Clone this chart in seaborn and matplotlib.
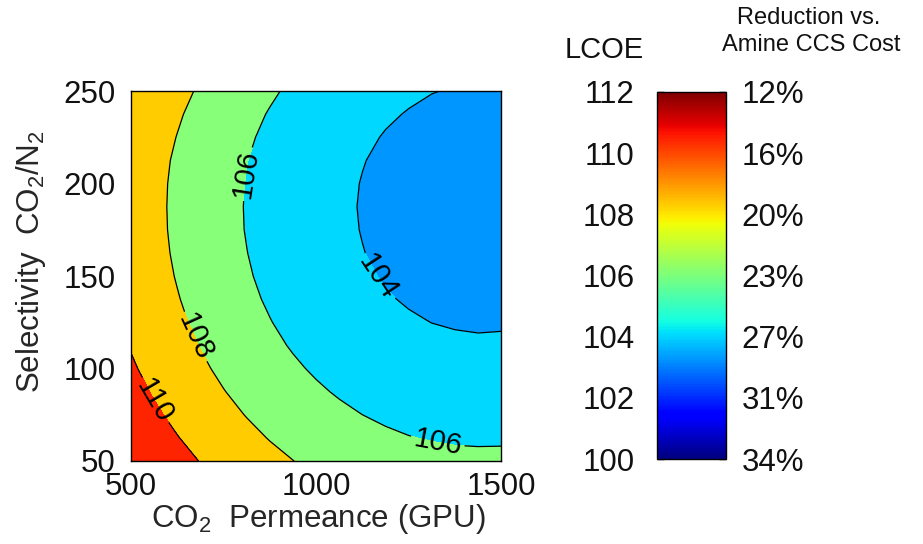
import numpy as np
import pandas as pd
import matplotlib
matplotlib.use("Agg")
import matplotlib.pyplot as plt
import seaborn as sns
from matplotlib.colors import Normalize
from matplotlib.cm import ScalarMappable

# ---------------- data ----------------
permeance = [500, 562.5, 625, 687.5, 750, 812.5, 875, 937.5, 1000,
             1062.5, 1125, 1187.5, 1250, 1312.5, 1375, 1437.5, 1500]
selectivity = [50, 62.5, 75, 87.5, 100, 112.5, 125, 137.5, 150,
               162.5, 175, 187.5, 200, 212.5, 225, 237.5, 250]

# LCOE read on the grid, one list per selectivity row (along permeance)
lcoe_sel_050_0 = [111.90, 111.20, 110.55, 109.95, 109.40, 108.89, 108.43, 108.02, 107.63, 107.29, 107.01, 106.77, 106.58, 106.45, 106.36, 106.33, 106.34]
lcoe_sel_062_5 = [111.40, 110.71, 110.06, 109.46, 108.90, 108.40, 107.93, 107.49, 107.10, 106.77, 106.48, 106.24, 106.05, 105.92, 105.83, 105.80, 105.81]
lcoe_sel_075_0 = [110.95, 110.26, 109.61, 109.01, 108.45, 107.94, 107.45, 107.01, 106.63, 106.29, 106.00, 105.76, 105.57, 105.43, 105.34, 105.31, 105.32]
lcoe_sel_087_5 = [110.55, 109.86, 109.21, 108.61, 108.05, 107.52, 107.03, 106.59, 106.20, 105.86, 105.56, 105.32, 105.13, 104.99, 104.91, 104.87, 104.89]
lcoe_sel_100_0 = [110.20, 109.51, 108.86, 108.26, 107.68, 107.14, 106.65, 106.21, 105.82, 105.47, 105.18, 104.94, 104.75, 104.61, 104.52, 104.49, 104.50]
lcoe_sel_112_5 = [109.90, 109.20, 108.55, 107.95, 107.36, 106.81, 106.32, 105.88, 105.48, 105.14, 104.85, 104.60, 104.41, 104.28, 104.19, 104.15, 104.17]
lcoe_sel_125_0 = [109.64, 108.94, 108.29, 107.67, 107.08, 106.54, 106.05, 105.60, 105.20, 104.86, 104.56, 104.32, 104.13, 103.99, 103.91, 103.87, 103.89]
lcoe_sel_137_5 = [109.43, 108.73, 108.08, 107.45, 106.85, 106.31, 105.82, 105.37, 104.97, 104.63, 104.34, 104.09, 103.90, 103.76, 103.67, 103.64, 103.66]
lcoe_sel_150_0 = [109.26, 108.57, 107.91, 107.27, 106.68, 106.14, 105.64, 105.19, 104.80, 104.45, 104.16, 103.91, 103.72, 103.58, 103.49, 103.46, 103.48]
lcoe_sel_162_5 = [109.15, 108.45, 107.79, 107.15, 106.56, 106.02, 105.52, 105.07, 104.67, 104.33, 104.03, 103.79, 103.59, 103.45, 103.37, 103.33, 103.35]
lcoe_sel_175_0 = [109.08, 108.38, 107.72, 107.08, 106.48, 105.94, 105.44, 104.99, 104.60, 104.25, 103.96, 103.71, 103.52, 103.38, 103.29, 103.26, 103.27]
lcoe_sel_187_5 = [109.06, 108.36, 107.70, 107.05, 106.46, 105.92, 105.42, 104.97, 104.57, 104.23, 103.93, 103.69, 103.50, 103.36, 103.27, 103.23, 103.25]
lcoe_sel_200_0 = [109.09, 108.39, 107.72, 107.08, 106.49, 105.95, 105.45, 105.00, 104.60, 104.26, 103.96, 103.72, 103.53, 103.39, 103.30, 103.26, 103.28]
lcoe_sel_212_5 = [109.16, 108.46, 107.80, 107.16, 106.57, 106.03, 105.53, 105.08, 104.68, 104.34, 104.04, 103.80, 103.61, 103.47, 103.38, 103.34, 103.36]
lcoe_sel_225_0 = [109.31, 108.62, 107.96, 107.32, 106.73, 106.19, 105.69, 105.24, 104.85, 104.50, 104.20, 103.93, 103.74, 103.60, 103.51, 103.48, 103.50]
lcoe_sel_237_5 = [109.51, 108.82, 108.17, 107.53, 106.94, 106.40, 105.91, 105.46, 105.06, 104.71, 104.40, 104.14, 103.94, 103.79, 103.70, 103.66, 103.68]
lcoe_sel_250_0 = [109.79, 109.09, 108.44, 107.82, 107.23, 106.69, 106.20, 105.75, 105.36, 105.00, 104.68, 104.40, 104.19, 104.03, 103.94, 103.90, 103.92]

contour_levels = [104, 106, 108, 110]
fill_levels = [100, 104, 106, 108, 110, 112]
x_ticks = [500, 1000, 1500]
y_ticks = [50, 100, 150, 200, 250]
cbar_ticks = [100, 102, 104, 106, 108, 110, 112]
cbar_pct = ["34%", "31%", "27%", "23%", "20%", "16%", "12%"]

# ---------------- styling ----------------
sns.set_theme(style="white")
plt.rcParams["font.family"] = ["Liberation Sans", "DejaVu Sans"]
plt.rcParams["mathtext.default"] = "regular"
plt.rcParams["text.color"] = "#111111"

band_colors = ["#0096ff", "#00d8ff", "#88ff78", "#ffcc00", "#ff2400"]
FS = 22.5

rows = [lcoe_sel_050_0, lcoe_sel_062_5, lcoe_sel_075_0, lcoe_sel_087_5,
        lcoe_sel_100_0, lcoe_sel_112_5, lcoe_sel_125_0, lcoe_sel_137_5,
        lcoe_sel_150_0, lcoe_sel_162_5, lcoe_sel_175_0, lcoe_sel_187_5,
        lcoe_sel_200_0, lcoe_sel_212_5, lcoe_sel_225_0, lcoe_sel_237_5,
        lcoe_sel_250_0]
df = pd.DataFrame(rows, index=selectivity, columns=permeance)
X, Y = np.meshgrid(df.columns.values, df.index.values)
Z = df.values

fig = plt.figure(figsize=(9.23, 5.44), dpi=100)
ax = fig.add_axes([0.142, 0.1526, 0.401, 0.680])

ax.contourf(X, Y, Z, levels=fill_levels, colors=band_colors)
cs = ax.contour(X, Y, Z, levels=contour_levels, colors="black", linewidths=0.9)
ax.clabel(cs, fmt="%d", fontsize=21, inline=True, inline_spacing=3,
          manual=[(559, 82), (649, 115), (817, 205), (1328, 60), (1150, 147)])

ax.set_xlim(500, 1500)
ax.set_ylim(50, 250)
ax.set_xticks(x_ticks)
ax.set_yticks(y_ticks)
ax.tick_params(axis="both", labelsize=FS, length=0, colors="#111111")
ax.tick_params(axis="y", pad=11)
ax.tick_params(axis="x", pad=8)
for s in ax.spines.values():
    s.set_visible(True)
    s.set_color("black")
    s.set_linewidth(1.0)

ax.set_xlabel("CO$_2$  Permeance (GPU)", fontsize=FS)
ax.set_ylabel("Selectivity  CO$_2$/N$_2$", fontsize=FS)
ax.xaxis.set_label_coords(0.505, -0.11)
ax.yaxis.set_label_coords(-0.225, 0.54)

# ---------------- colorbar ----------------
cax = fig.add_axes([0.7118, 0.1562, 0.0748, 0.6747])
sm = ScalarMappable(norm=Normalize(100, 112), cmap="jet")
cbar = fig.colorbar(sm, cax=cax)
cbar.outline.set_edgecolor("black")
cbar.outline.set_linewidth(1.0)
cbar.set_ticks(cbar_ticks)
cax.yaxis.set_ticks_position("left")
cax.yaxis.set_label_position("left")
cax.tick_params(axis="y", direction="in", length=5, width=1, colors="black",
                labelsize=FS, pad=16, labelcolor="#111111")
sec = cax.secondary_yaxis("right")
sec.set_yticks(cbar_ticks, labels=cbar_pct)
sec.tick_params(axis="y", direction="in", length=5, width=1, colors="black",
                labelsize=FS, pad=11, labelcolor="#111111")
sec.spines["right"].set_visible(False)

fig.text(0.655, 0.908, "LCOE", fontsize=21, ha="center", va="center")
fig.text(0.876, 0.967, "Reduction vs.", fontsize=17, ha="center", va="center")
fig.text(0.879, 0.918, "Amine CCS Cost", fontsize=17, ha="center", va="center")

fig.savefig("out.png", dpi=100, facecolor="white")
